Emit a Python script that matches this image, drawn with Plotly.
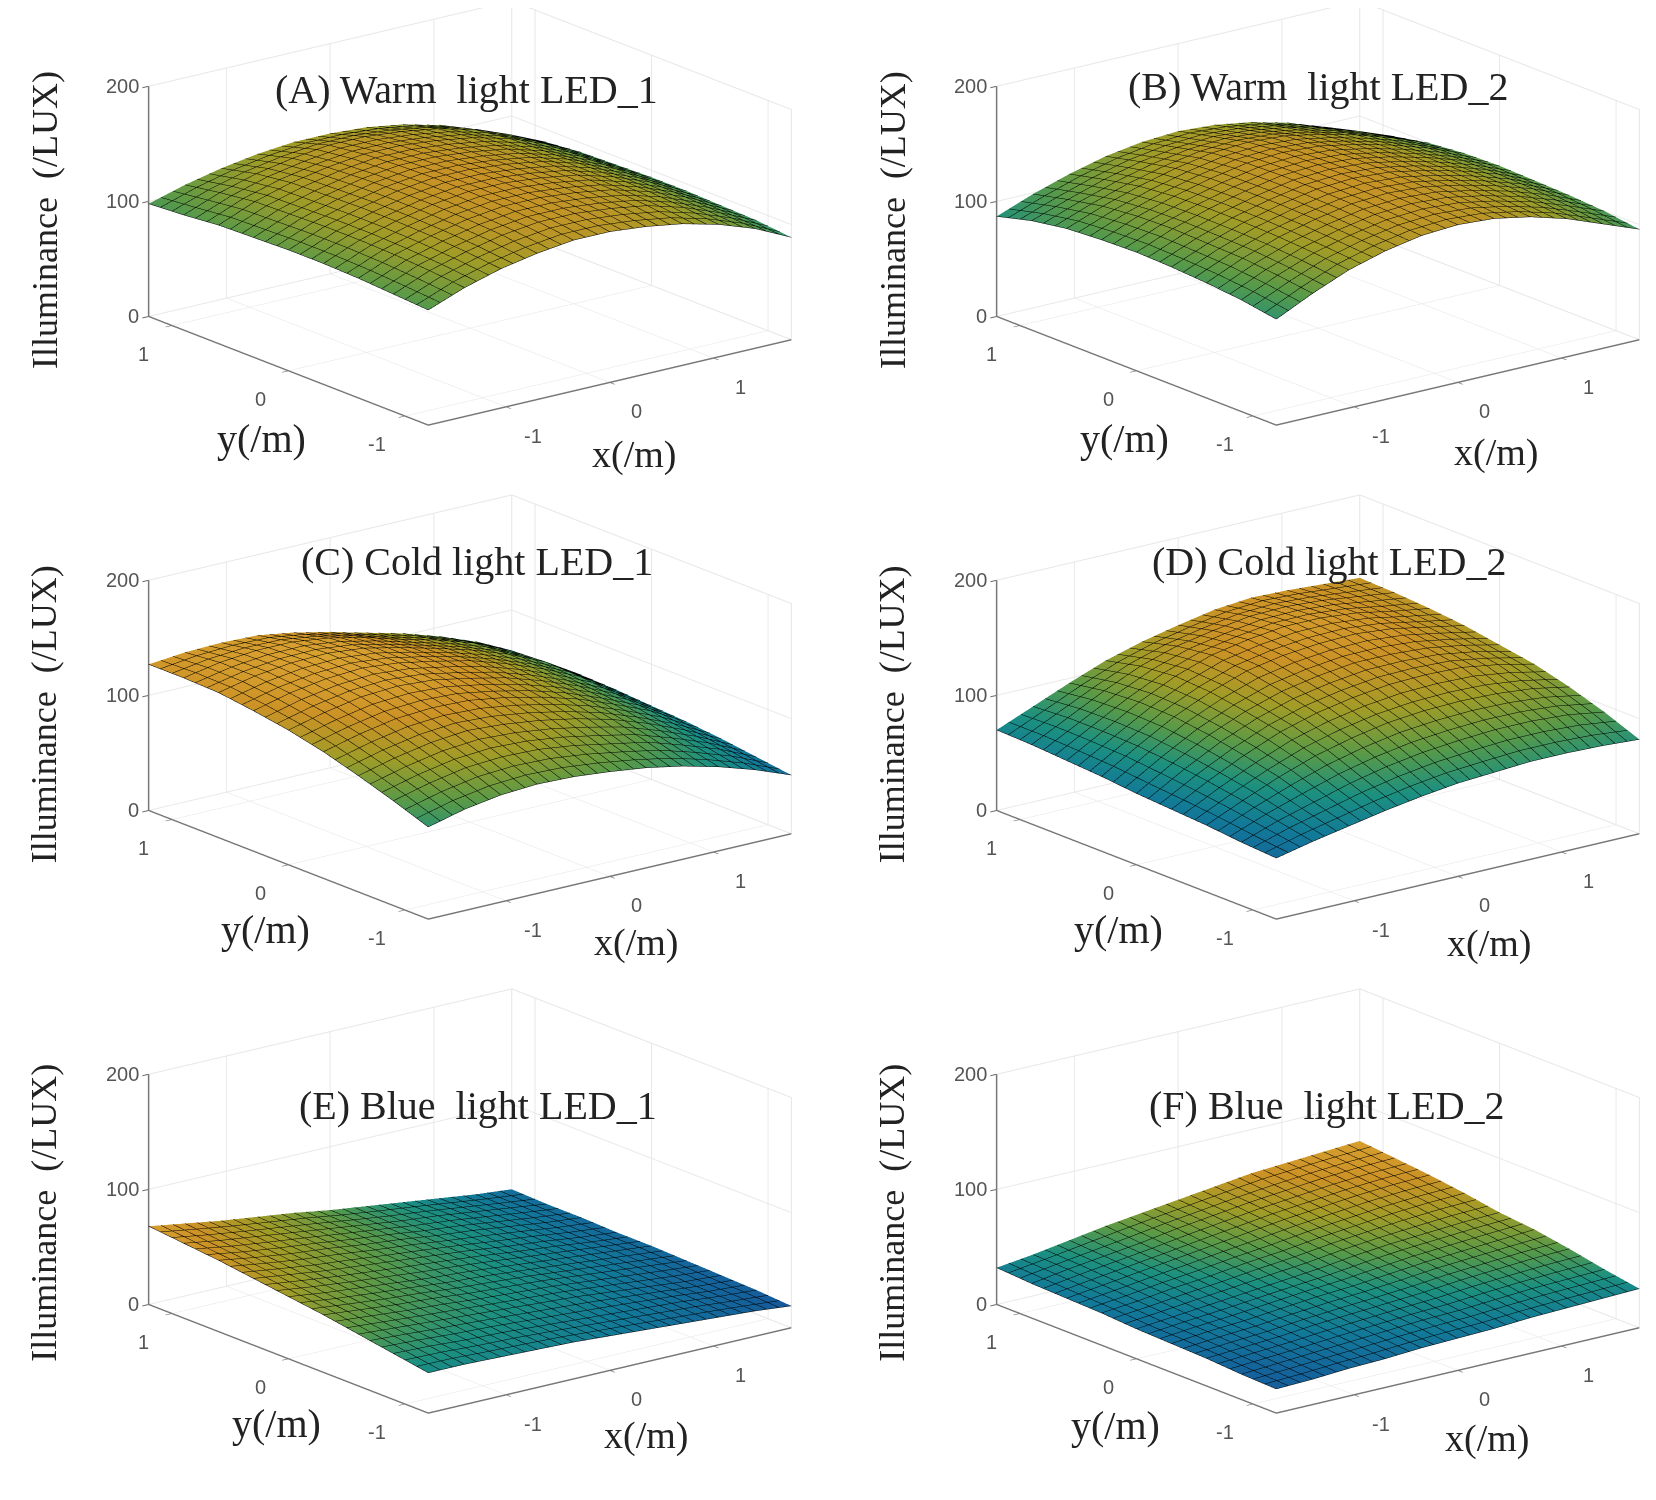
import plotly.graph_objects as go

x_vals = [-1.75, -1.4, -1.05, -0.7, -0.35, 0.0, 0.35, 0.7, 1.05, 1.4, 1.75]
y_vals = [-1.2, -0.9, -0.6, -0.3, 0.0, 0.3, 0.6, 0.9, 1.2]

z_a = [[100,112,121,127,131,131,128,123,115,104,89],
       [102,115,124,131,135,135,132,127,118,106,92],
       [104,117,126,133,137,137,134,129,120,108,93],
       [105,118,127,134,138,138,135,130,121,109,94],
       [105,118,127,134,138,138,135,130,121,109,94],
       [104,117,126,133,137,137,134,129,120,108,93],
       [103,116,125,131,135,135,132,127,119,107,92],
       [100,112,121,127,131,131,128,123,115,103,89],
       [98,107,114,119,122,122,120,115,107,96,82]]
z_b = [[92,107,120,129,135,137,135,129,120,108,96],
       [97,111,123,131,137,139,137,131,123,112,100],
       [100,114,125,133,139,141,139,133,125,115,102],
       [102,115,126,134,140,142,140,134,126,116,103],
       [103,116,126,134,140,142,140,134,126,116,104],
       [102,115,125,133,139,141,139,133,125,115,103],
       [100,112,122,130,136,138,136,130,122,112,100],
       [95,106,116,124,129,131,129,124,116,106,94],
       [87,99,109,117,122,124,122,117,109,98,84]]
z_c = [[80,88,93,95,94,91,87,81,73,63,51],
       [91,99,105,107,106,102,96,90,80,69,55],
       [101,109,115,118,116,112,106,98,87,74,59],
       [110,118,124,126,125,120,113,104,92,79,62],
       [117,125,131,133,131,125,118,108,96,82,64],
       [122,130,135,137,134,128,121,111,99,85,66],
       [126,133,137,138,135,128,120,111,100,86,67],
       [127,133,136,136,132,125,116,108,98,84,66],
       [127,130,131,130,125,118,110,102,92,80,65]]
z_d = [[53,60,66,72,77,81,83,85,85,84,82],
       [55,66,75,84,91,96,99,101,101,99,94],
       [58,72,85,96,104,110,113,114,113,110,104],
       [60,77,92,105,114,120,124,125,124,119,112],
       [62,81,98,111,121,127,131,131,129,124,117],
       [65,84,102,116,127,133,136,137,134,128,122],
       [67,85,103,118,129,135,139,139,136,130,125],
       [69,85,101,115,125,131,136,137,135,131,127],
       [70,83,96,108,117,124,130,133,132,130,128]]
z_e = [[35,35,34,33,32,30,28,26,24,22,19],
       [40,39,37,36,34,32,30,28,26,23,21],
       [45,43,41,39,37,35,33,30,27,24,22],
       [50,47,44,42,39,37,35,32,29,26,23],
       [54,50,47,44,41,39,36,33,30,27,24],
       [58,54,50,47,44,41,38,34,31,27,24],
       [62,57,53,50,46,43,39,36,32,28,25],
       [65,60,56,52,48,44,40,37,33,29,25],
       [68,63,58,54,50,45,41,37,33,29,26]]
z_f = [[21,22,24,25,27,28,29,31,32,33,34],
       [22,24,26,28,30,32,33,35,37,38,39],
       [24,26,28,31,33,35,37,40,42,44,45],
       [25,28,30,33,36,38,41,44,46,48,50],
       [26,29,32,35,38,41,45,48,50,52,53],
       [28,31,35,38,42,45,49,52,55,57,58],
       [29,33,37,41,45,49,53,56,59,61,62],
       [30,35,39,43,48,52,56,59,62,64,65],
       [32,36,41,46,50,54,58,62,64,66,68]]

titles = ["(A) Warm  light LED_1", "(B) Warm  light LED_2", "(C) Cold light LED_1",
          "(D) Cold light LED_2", "(E) Blue  light LED_1", "(F) Blue  light LED_2"]
surfaces = [z_a, z_b, z_c, z_d, z_e, z_f]
color_low = [20, 20, 20, 20, 10, 10]
color_high = [170, 175, 150, 160, 75, 75]

z_label = "Illuminance  (/LUX)"
x_label = "x(/m)"
y_label = "y(/m)"
x_ticks = [-1, 0, 1]
y_ticks = [-1, 0, 1]
z_ticks = [0, 100, 200]

W, H = 1656, 1500
SC = 0.9469
PAGE = 8  # default page margin around the figure

parula = [[0, "#232880"], [0.15, "#155a9c"], [0.3, "#127a98"], [0.42, "#1c9080"],
          [0.55, "#5a9a48"], [0.68, "#a09c28"], [0.8, "#cc9226"], [0.9, "#d8a030"], [1, "#d0c81c"]]

cols = [(0, 924), (964, 1656)]
rows = [(0, 460), (469, 929), (963, 1423)]
row_shift = [-0.114, 0.0, 0.0]
eye = dict(x=-0.585, y=-0.752, z=0.302)
DIST = 4.0
ZOOM = 2.0
MESH_X = 3.5 / 30
MESH_Y = 0.1

title_pos = [(442, 85), (1248, 82), (452, 532), (1258, 532), (453, 1047), (1257, 1047)]
zlab_pos = [(42, 208), (845, 208), (42, 676), (845, 676), (42, 1148), (845, 1148)]
ylab_pos = [(248, 415), (1065, 415), (251, 880), (1059, 880), (262, 1348), (1056, 1350)]
xlab_pos = [(600, 430), (1417, 428), (602, 892), (1410, 893), (612, 1359), (1408, 1362)]

fig = go.Figure()
xmin, xmax, ymin, ymax = x_vals[0], x_vals[-1], y_vals[0], y_vals[-1]
ann = []
def note(text, pos, size, angle=0):
    ann.append(dict(text=text, x=(pos[0] / SC - PAGE) / W, y=1 - (pos[1] / SC - PAGE) / H, xref="paper", yref="paper",
                    showarrow=False, textangle=angle, xanchor="center", yanchor="middle",
                    font=dict(family="Liberation Serif", size=size, color="#222")))

def tick_label(text, px, py, pz, dx, dy, anchor="center"):
    return dict(text=str(text), x=px, y=py, z=pz, showarrow=False, xshift=dx, yshift=dy, xanchor=anchor,
                yanchor="middle", font=dict(family="Liberation Sans", size=20, color="#555"))

def ax(rng, ticks):
    return dict(range=rng, tickmode="array", tickvals=ticks, showticklabels=False,
                showbackground=False, gridcolor="#e8e8e8", gridwidth=2, zeroline=False,
                showline=True, linecolor="#777", linewidth=3, ticks="outside", ticklen=8,
                tickcolor="#666", tickwidth=2, showspikes=False, title=dict(text=""))

for i, z in enumerate(surfaces):
    name = "scene" if i == 0 else f"scene{i+1}"
    c0, c1 = cols[i % 2]
    r0, r1 = rows[i // 2]
    shift = row_shift[i // 2]
    fig.add_trace(go.Scatter3d(
        x=[xmin, xmin, xmax, xmax, xmax, xmax, xmax, xmin, None, xmax, xmax],
        y=[ymax, ymax, ymax, ymin, ymin, ymax, ymax, ymax, None, ymax, ymax],
        z=[0, 200, 200, 200, 0, 0, 200, 200, None, 0, 0],
        mode="lines", line=dict(color="#e6e6e6", width=2), hoverinfo="skip",
        showlegend=False, scene=name))
    fig.add_trace(go.Surface(
        x=x_vals, y=y_vals, z=z, scene=name, showscale=False, colorscale=parula,
        cmin=color_low[i], cmax=color_high[i], hoverinfo="skip",
        lighting=dict(ambient=1, diffuse=0, specular=0, fresnel=0),
        contours=dict(
            x=dict(show=True, start=xmin, end=xmax, size=MESH_X, color="#000000", width=4, highlight=False),
            y=dict(show=True, start=ymin, end=ymax, size=MESH_Y, color="#000000", width=4, highlight=False),
            z=dict(highlight=False))))
    labels = [tick_label(t, t, ymin, 0, 27, -29) for t in x_ticks]
    labels += [tick_label(t, xmin, t, 0, -28, -28) for t in y_ticks]
    labels += [tick_label(t, xmin, ymax, t, -8, 0, "right") for t in z_ticks]
    scene = dict(
        domain=dict(x=[c0 / W, c1 / W], y=[1 - r1 / H, 1 - r0 / H]),
        xaxis=ax([xmin, xmax], x_ticks), yaxis=ax([ymin, ymax], y_ticks), zaxis=ax([0, 200], z_ticks),
        aspectmode="manual", aspectratio=dict(x=ZOOM, y=0.99 * ZOOM, z=0.525 * ZOOM),
        camera=dict(eye=dict(x=eye["x"] * DIST, y=eye["y"] * DIST, z=eye["z"] * DIST + shift),
                    center=dict(x=0, y=0, z=shift),
                    projection=dict(type="orthographic")),
        annotations=labels, bgcolor="white")
    fig.update_layout(**{name: scene})
    note(titles[i], title_pos[i], 40)
    note(z_label, zlab_pos[i], 36, -90)
    note(y_label, ylab_pos[i], 40)
    note(x_label, xlab_pos[i], 38)

fig.update_layout(width=W, height=H, margin=dict(l=0, r=0, t=0, b=0), paper_bgcolor="white",
                  annotations=ann, showlegend=False)
fig.write_html("out.html")
